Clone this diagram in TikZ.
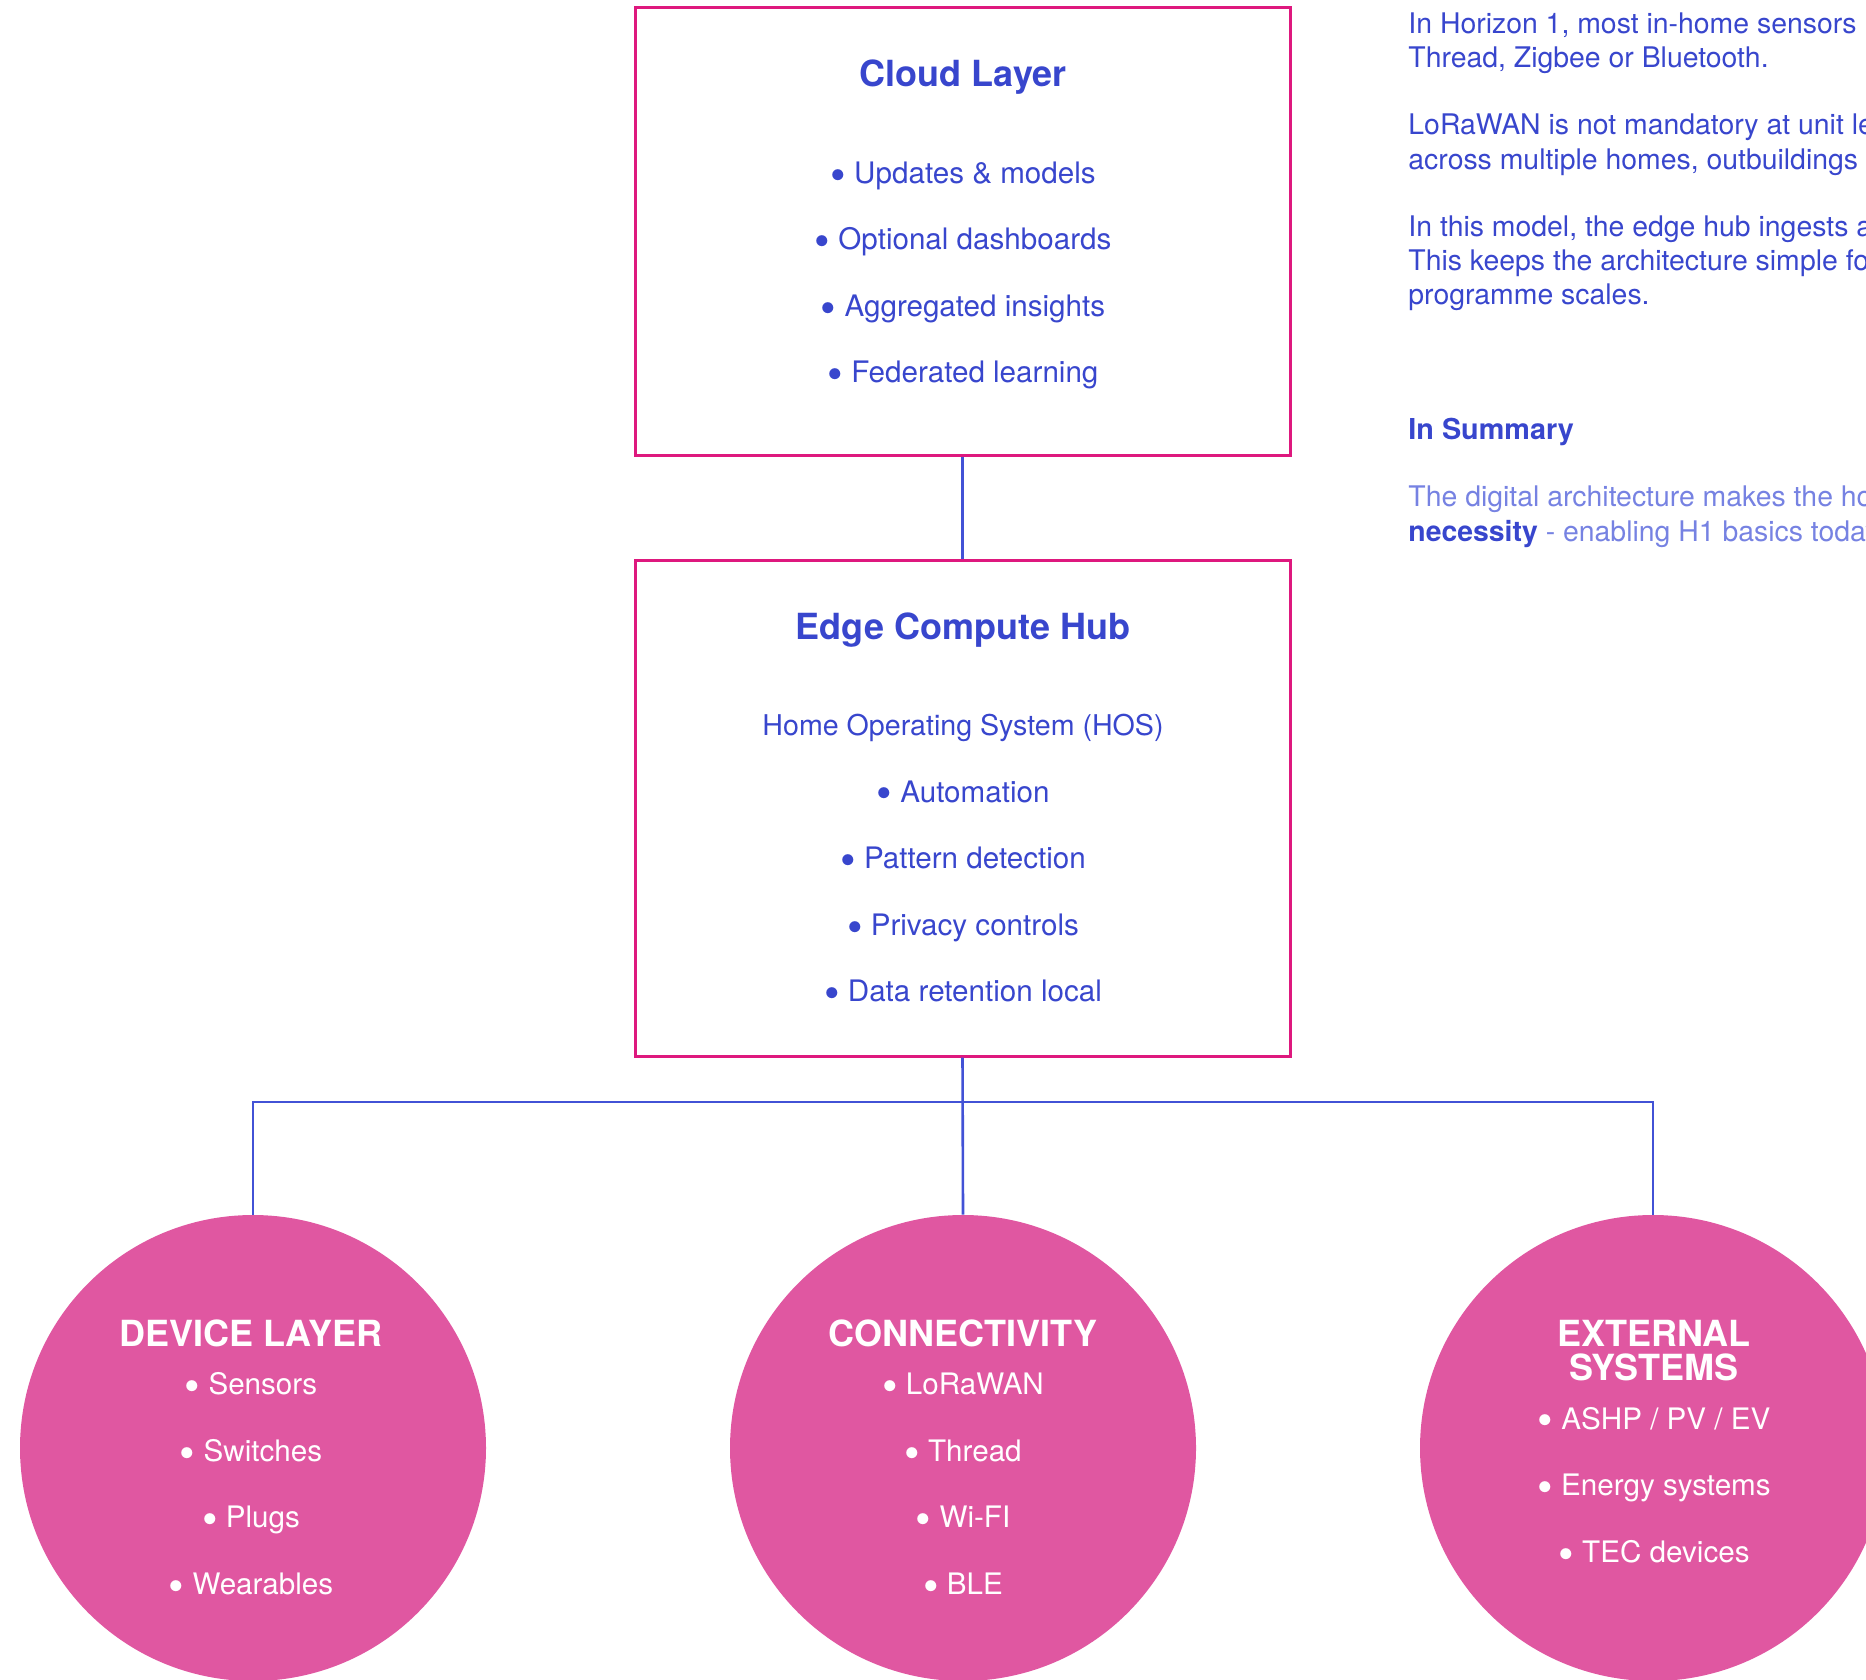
\documentclass[tikz,border=0pt]{standalone}
\usepackage{fontspec}
\setmainfont{TeX Gyre Heros}
\definecolor{inkblue}{RGB}{56,70,205}
\definecolor{softblue}{RGB}{118,130,226}
\definecolor{boxpink}{RGB}{222,24,126}
\definecolor{hubpink}{RGB}{224,87,161}
\definecolor{wireblue}{RGB}{66,82,214}
\newcommand{\bul}{\raisebox{-0.23em}{\scalebox{1.5}{•}}}
\begin{document}
\begin{tikzpicture}[x=0.5pt, y=-0.5pt,
    layer/.style={draw=boxpink, line width=1.5pt, minimum width=327.5pt, inner sep=0pt},
    hub/.style={circle, fill=hubpink, minimum size=233pt, inner sep=0pt},
    wire/.style={draw=wireblue, line width=1.3pt},
    title/.style={font=\bfseries\fontsize{18}{18}\selectfont, text height=13pt, text depth=0pt, inner sep=0pt},
    item/.style={font=\fontsize{14.8}{17}\selectfont, text height=10.6pt, text depth=0pt, inner sep=0pt},
    note/.style={anchor=base west, inner sep=0pt, text=inkblue, font=\fontsize{14.2}{17}\selectfont}]
\useasboundingbox (0,0) rectangle (1866,1679);
\clip (0,0) rectangle (1866,1679);

\node[layer, minimum height=224pt] (cloud) at (962.5,232) {};
\node[layer, minimum height=248pt] (edge) at (962.5,808) {};
\node[hub] (dev) at (253,1448) {};
\node[hub] (conn) at (963,1448) {};
\node[hub] (ext) at (1653,1448) {};
\coordinate (bus) at (963,1102);

\draw[wire] (cloud.south)--(edge.north);
\draw[wire] (edge.south)--(conn.north);
\draw[wire] (dev.north) |- (bus) -| (ext.north);

\begin{scope}[every node/.append style={text=inkblue}]
\node[title] (cloudtitle) at (963,74) {Cloud Layer};
\node[item] (cloud1) at (963,172.6) {\bul\ Updates \& models};
\node[item] (cloud2) at (963,239.2) {\bul\ Optional dashboards};
\node[item] (cloud3) at (963,305.8) {\bul\ Aggregated insights};
\node[item] (cloud4) at (963,372.4) {\bul\ Federated learning};

\node[title] (edgetitle) at (963,626) {Edge Compute Hub};
\node[item, font=\fontsize{14.3}{17}\selectfont] (hos) at (963,725) {Home Operating System (HOS)};
\node[item] (edge1) at (963,791.4) {\bul\ Automation};
\node[item] (edge2) at (963,858) {\bul\ Pattern detection};
\node[item] (edge3) at (963,924.6) {\bul\ Privacy controls};
\node[item] (edge4) at (963,991.2) {\bul\ Data retention local};
\end{scope}

\begin{scope}[every node/.append style={text=white}]
\node[title] (devtitle) at (251,1333) {DEVICE LAYER};
\node[item] (dev1) at (251,1384) {\bul\ Sensors};
\node[item] (dev2) at (251,1450.6) {\bul\ Switches};
\node[item] (dev3) at (251,1517.2) {\bul\ Plugs};
\node[item] (dev4) at (251,1583.8) {\bul\ Wearables};

\node[title] (conntitle) at (963,1333) {CONNECTIVITY};
\node[item] (conn1) at (963,1384) {\bul\ LoRaWAN};
\node[item] (conn2) at (963,1450.6) {\bul\ Thread};
\node[item] (conn3) at (963,1517.2) {\bul\ Wi-FI};
\node[item] (conn4) at (963,1583.8) {\bul\ BLE};

\node[title] (exttitle1) at (1654,1333) {EXTERNAL};
\node[title] (exttitle2) at (1654,1367) {SYSTEMS};
\node[item] (ext1) at (1654,1418.5) {\bul\ ASHP / PV / EV};
\node[item] (ext2) at (1654,1485.1) {\bul\ Energy systems};
\node[item] (ext3) at (1654,1551.7) {\bul\ TEC devices};
\end{scope}

\node[note] (note1) at (1408,34) {In Horizon 1, most in-home sensors};
\node[note] (note2) at (1408,68) {Thread, Zigbee or Bluetooth.};
\node[note] (note3) at (1408,135) {LoRaWAN is not mandatory at unit level};
\node[note] (note4) at (1408,170) {across multiple homes, outbuildings};
\node[note] (note5) at (1408,237) {In this model, the edge hub ingests a};
\node[note] (note6) at (1408,271) {This keeps the architecture simple for};
\node[note] (note7) at (1408,305) {programme scales.};
\node[note, font=\bfseries\fontsize{14.4}{17}\selectfont] (summary) at (1408,440) {In Summary};
\node[note, text=softblue] (note8) at (1408,506) {The digital architecture makes the home};
\node[note, text=softblue] (note9) at (1408,541) {\textcolor{inkblue}{\bfseries necessity} - enabling H1 basics today};
\end{tikzpicture}
\end{document}
